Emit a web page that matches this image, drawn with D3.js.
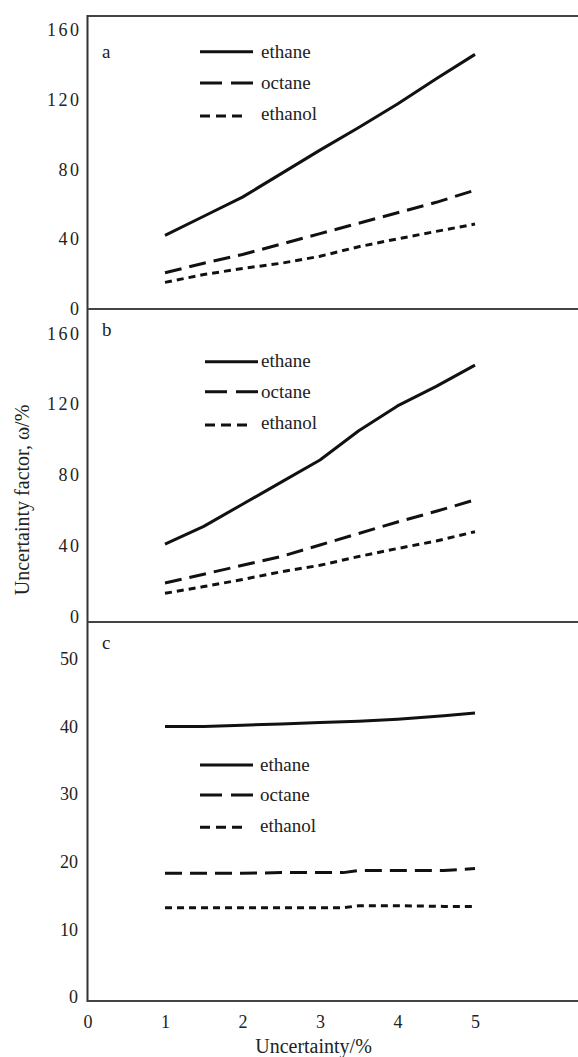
<!DOCTYPE html>
<html>
<head>
<meta charset="utf-8">
<script src="https://cdn.jsdelivr.net/npm/d3@7"></script>
<style>
  html, body { margin: 0; padding: 0; background: #fff; }
  svg { display: block; }
</style>
</head>
<body>
<svg id="chart" width="578" height="1057" font-family="Liberation Serif"></svg>
<script>
// ---- data ----
const seriesNames = ["ethane", "octane", "ethanol"];
const xTicks = [0, 1, 2, 3, 4, 5];
const xAB = [1, 1.5, 2, 2.5, 3, 3.5, 4, 4.5, 5];
const xC = [1, 1.5, 2, 2.5, 3, 3.3, 3.5, 4, 4.6, 5];

const aEthane  = [42, 53, 64, 77.5, 91, 104, 117.5, 132, 146];
const aOctane  = [20.5, 26, 31, 37, 43, 49, 55, 61, 68];
const aEthanol = [15, 19.5, 23, 26, 30, 35.5, 40, 44.3, 48.5];

const bEthane  = [41, 51, 63.5, 76, 88.5, 105, 119, 130, 142];
const bOctane  = [19, 24, 29, 34, 40.5, 47, 53.5, 59.5, 66];
const bEthanol = [13.2, 17, 21, 25.4, 29, 34, 38.5, 42.7, 48];

const cEthane  = [40, 40, 40.2, 40.4, 40.6, 40.7, 40.8, 41.1, 41.6, 42.0];
const cOctane  = [18.3, 18.3, 18.3, 18.4, 18.4, 18.4, 18.7, 18.7, 18.7, 19.0];
const cEthanol = [13.2, 13.2, 13.2, 13.2, 13.2, 13.2, 13.5, 13.5, 13.4, 13.4];

const ticksAB = [0, 40, 80, 120, 160];
const ticksC = [0, 10, 20, 30, 40, 50];
const xLabel = "Uncertainty/%";
const yLabel = "Uncertainty factor, \u03c9/%";

// ---- layout ----
const FONT = "Liberation Serif";
const svg = d3.select("#chart");
const X0 = 87.5, XR = 578;
const x = d3.scaleLinear().domain([0, 5]).range([X0, 475]);

const panels = [
  { letter: "a", xs: xAB, vals: [aEthane, aOctane, aEthanol], ticks: ticksAB, domain: [0, 160], range: [308.5, 30],
    bottom: 309, spacing: 2.5, pad: 6, letterY: 58,
    legend: { x1: 200, tx: 261, ys: [51.7, 83, 116], base: [58, 88.5, 119.5] } },
  { letter: "b", xs: xAB, vals: [bEthane, bOctane, bEthanol], ticks: ticksAB, domain: [0, 160], range: [616.7, 333.3],
    bottom: 622, spacing: 2.5, pad: 6, letterY: 336,
    legend: { x1: 205, tx: 261, ys: [361.7, 391.7, 425], base: [367, 397.5, 428.5] } },
  { letter: "c", xs: xC, vals: [cEthane, cOctane, cEthanol], ticks: ticksC, domain: [0, 50], range: [997, 659],
    bottom: 1001, spacing: 0, pad: 9.5, letterY: 649,
    legend: { x1: 200, tx: 260, ys: [765, 795, 827.3], base: [770.5, 800.5, 832] } }
];

const dataDash = [null, "17,8", "7,5"];
const legendDash = [null, "22,9", "10,6"];
const legendLen = [53, 53, 43];

function styleText(sel, size) {
  sel.attr("font-family", FONT).attr("font-size", size).attr("fill", "#222");
}

svg.append("line").attr("x1", X0).attr("x2", XR).attr("y1", 16).attr("y2", 16)
  .attr("stroke", "#444").attr("stroke-width", 2);
svg.append("line").attr("x1", X0).attr("x2", X0).attr("y1", 15).attr("y2", 1002)
  .attr("stroke", "#333").attr("stroke-width", 2);

panels.forEach(p => {
  const y = d3.scaleLinear().domain(p.domain).range(p.range);

  svg.append("line").attr("x1", X0).attr("x2", XR).attr("y1", p.bottom).attr("y2", p.bottom)
    .attr("stroke", "#444").attr("stroke-width", 2);

  const ax = svg.append("g").attr("transform", `translate(${X0},0)`)
    .call(d3.axisLeft(y).tickValues(p.ticks).tickSize(0).tickPadding(p.pad).tickFormat(d3.format("d")));
  ax.select(".domain").remove();
  ax.attr("font-family", FONT).attr("font-size", 18);
  styleText(ax.selectAll("text"), 18);
  ax.selectAll("text").attr("letter-spacing", p.spacing);

  styleText(svg.append("text").attr("x", 102).attr("y", p.letterY).text(p.letter), 19);

  const line = d3.line().x((d, i) => x(p.xs[i])).y(d => y(d));
  p.vals.forEach((vals, k) => {
    svg.append("path").datum(vals).attr("d", line)
      .attr("fill", "none").attr("stroke", "#111").attr("stroke-width", 3)
      .attr("stroke-linejoin", "round")
      .attr("stroke-dasharray", dataDash[k]);
  });

  seriesNames.forEach((name, k) => {
    const L = p.legend;
    svg.append("line").attr("x1", L.x1).attr("x2", L.x1 + legendLen[k])
      .attr("y1", L.ys[k]).attr("y2", L.ys[k])
      .attr("stroke", "#111").attr("stroke-width", 3)
      .attr("stroke-dasharray", legendDash[k]);
    styleText(svg.append("text").attr("x", L.tx).attr("y", L.base[k]).text(name), 19);
  });
});

const xa = svg.append("g").attr("transform", "translate(0,1001)")
  .call(d3.axisBottom(x).tickValues(xTicks).tickSize(0).tickPadding(14).tickFormat(d3.format("d")));
xa.select(".domain").remove();
xa.attr("font-family", FONT).attr("font-size", 18);
styleText(xa.selectAll("text"), 18);

styleText(svg.append("text").attr("x", 313.5).attr("y", 1053).attr("text-anchor", "middle").text(xLabel), 20);
styleText(svg.append("text").attr("transform", "translate(29,500) rotate(-90)").attr("text-anchor", "middle").text(yLabel), 20);
</script>
</body>
</html>
